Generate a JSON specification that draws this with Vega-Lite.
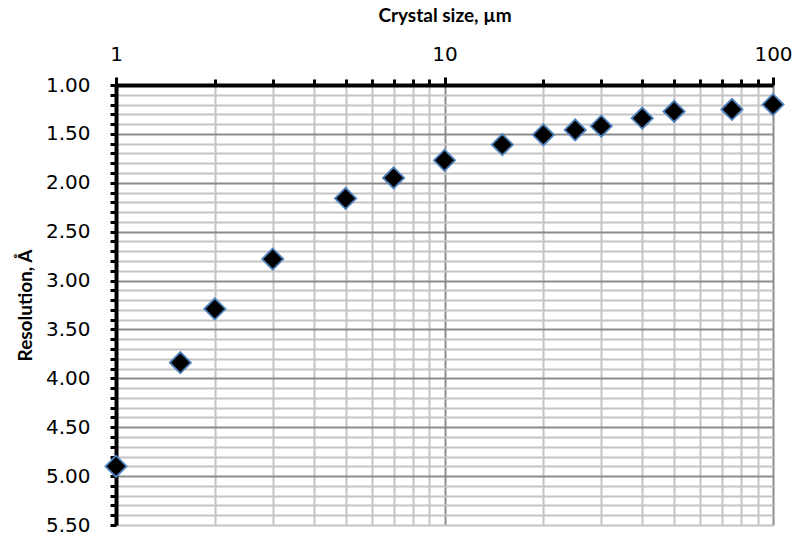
{
  "$schema": "https://vega.github.io/schema/vega-lite/v6.json",
  "autosize": {"type": "none"},
  "width": 657,
  "height": 440,
  "padding": {"left": 116, "top": 85, "right": 23, "bottom": 14},
  "background": "white",
  "config": {"view": {"stroke": null}},
  "data": {
    "values": [
      {"size_um": 1, "resolution": 4.90},
      {"size_um": 1.57, "resolution": 3.84},
      {"size_um": 2, "resolution": 3.29},
      {"size_um": 3, "resolution": 2.78},
      {"size_um": 5, "resolution": 2.16},
      {"size_um": 7, "resolution": 1.95},
      {"size_um": 10, "resolution": 1.77},
      {"size_um": 15, "resolution": 1.61},
      {"size_um": 20, "resolution": 1.51},
      {"size_um": 25, "resolution": 1.46},
      {"size_um": 30, "resolution": 1.42},
      {"size_um": 40, "resolution": 1.34},
      {"size_um": 50, "resolution": 1.27},
      {"size_um": 75, "resolution": 1.25},
      {"size_um": 100, "resolution": 1.20}
    ]
  },
  "mark": {
    "type": "point",
    "shape": "diamond",
    "filled": true,
    "fill": "black",
    "stroke": "#4f81bd",
    "strokeWidth": 1.8,
    "size": 450,
    "opacity": 1
  },
  "encoding": {
    "x": {
      "field": "size_um",
      "type": "quantitative",
      "scale": {"type": "log", "domain": [1, 100], "nice": false},
      "axis": {
        "orient": "top",
        "title": "Crystal size, µm",
        "titleFont": "Lato",
        "titleFontSize": 19,
        "titleFontWeight": "bold",
        "titleColor": "black",
        "titleY": -70,
        "titleBaseline": "middle",
        "values": [1, 2, 3, 4, 5, 6, 7, 8, 9, 10, 20, 30, 40, 50, 60, 70, 80, 90, 100],
        "labelExpr": "indexof([1, 10, 100], datum.value) >= 0 ? format(datum.value, 'd') : ''",
        "labelFont": "DejaVu Sans",
        "labelFontSize": 20,
        "labelColor": "black",
        "labelPadding": 13,
        "labelOverlap": false,
        "labelFlush": false,
        "labelBound": false,
        "domainColor": "black",
        "domainWidth": 4,
        "tickColor": "black",
        "tickWidth": 3,
        "tickSize": {"condition": {"test": "indexof([1, 10, 100], datum.value) >= 0", "value": 8}, "value": 6},
        "grid": true,
        "gridColor": {"condition": {"test": "datum.value == 10 || datum.value == 100", "value": "#8c8c8c"}, "value": "#c4c4c4"},
        "gridWidth": 2
      }
    },
    "y": {
      "field": "resolution",
      "type": "quantitative",
      "scale": {"domain": [1, 5.5], "reverse": true, "nice": false, "zero": false},
      "axis": {
        "orient": "left",
        "title": "Resolution, Å",
        "titleFont": "Lato",
        "titleFontSize": 19,
        "titleFontWeight": "bold",
        "titleColor": "black",
        "titleAngle": -90,
        "titleX": -91,
        "titleY": 220,
        "titleAlign": "center",
        "titleBaseline": "middle",
        "values": [1, 1.1, 1.2, 1.3, 1.4, 1.5, 1.6, 1.7, 1.8, 1.9, 2, 2.1, 2.2, 2.3, 2.4, 2.5, 2.6, 2.7, 2.8, 2.9, 3, 3.1, 3.2, 3.3, 3.4, 3.5, 3.6, 3.7, 3.8, 3.9, 4, 4.1, 4.2, 4.3, 4.4, 4.5, 4.6, 4.7, 4.8, 4.9, 5, 5.1, 5.2, 5.3, 5.4, 5.5],
        "labelExpr": "abs(datum.value * 2 - round(datum.value * 2)) < 0.01 ? format(datum.value, '.2f') : ''",
        "labelFont": "DejaVu Sans",
        "labelFontSize": 20,
        "labelColor": "black",
        "labelPadding": 20,
        "labelOverlap": false,
        "labelFlush": false,
        "labelBound": false,
        "domainColor": "black",
        "domainWidth": 4,
        "tickColor": "black",
        "tickWidth": 3,
        "tickSize": 6,
        "grid": true,
        "gridColor": {"condition": {"test": "abs(datum.value * 2 - round(datum.value * 2)) < 0.01 && datum.value > 1.2 && datum.value < 5.4", "value": "#8c8c8c"}, "value": "#c4c4c4"},
        "gridWidth": 2
      }
    }
  }
}
